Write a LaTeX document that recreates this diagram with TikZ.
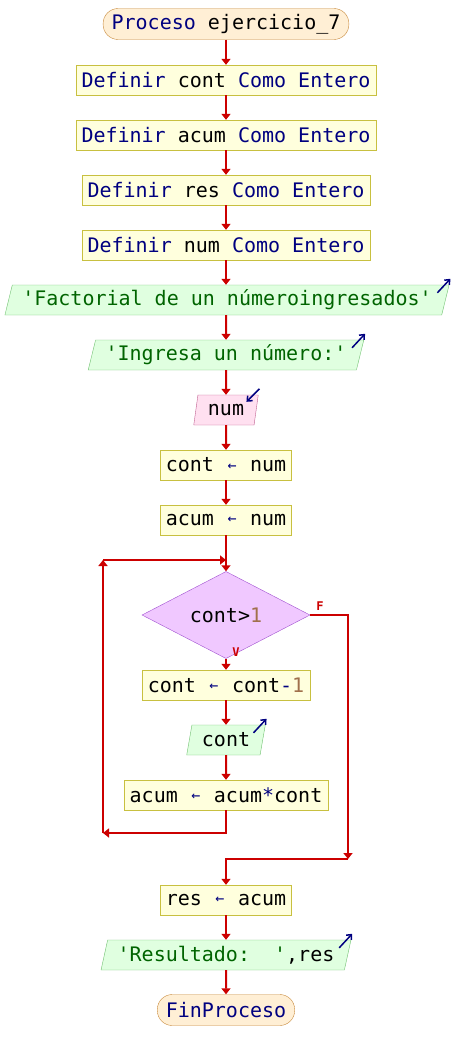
\documentclass[tikz,border=0pt]{standalone}
\usepackage{fontspec}
\setmainfont{DejaVu Sans Mono}
\usetikzlibrary{arrows.meta,shapes.geometric}

\definecolor{flecha}{HTML}{CC0000}
\definecolor{clave}{HTML}{000080}
\definecolor{cadena}{HTML}{006400}
\definecolor{numero}{HTML}{A0704C}
\definecolor{fondoproc}{HTML}{FFFFDD}
\definecolor{bordeproc}{HTML}{C8C040}
\definecolor{fondoterm}{HTML}{FFEFD5}
\definecolor{bordeterm}{HTML}{C88A3C}
\definecolor{fondosal}{HTML}{E0FFE0}
\definecolor{bordesal}{HTML}{70C070}
\definecolor{fondoent}{HTML}{FFE0F0}
\definecolor{bordeent}{HTML}{C06090}
\definecolor{fondodec}{HTML}{F0C8FF}
\definecolor{bordedec}{HTML}{A050D0}

\newcommand{\kw}[1]{\textcolor{clave}{#1}}
\newcommand{\cad}[1]{\textcolor{cadena}{#1}}
\newcommand{\num}[1]{\textcolor{numero}{#1}}
\newcommand{\q}{\textquotesingle}
\newcommand{\asig}{\makebox[12pt]{\textcolor{clave}{\raisebox{1.5pt}{\fontsize{15}{15}\selectfont ←}}}}

\begin{document}
\begin{tikzpicture}[x=1pt,y=-1pt,font=\fontsize{20}{24}\selectfont]

\tikzset{
    proceso/.style={rectangle,draw=bordeproc,fill=fondoproc,minimum height=30pt,inner xsep=5.5pt,inner ysep=0pt},
    terminal/.style={rectangle,rounded corners=15pt,draw=bordeterm,fill=fondoterm,minimum height=31pt,inner xsep=8.5pt,inner ysep=0pt},
    salida/.style={trapezium,trapezium left angle=70,trapezium right angle=110,trapezium stretches=true,draw=bordesal,fill=fondosal,minimum height=30pt,inner xsep=10pt,inner ysep=0pt},
    entrada/.style={salida,draw=bordeent,fill=fondoent},
    decision/.style={diamond,draw=bordedec,fill=fondodec,minimum width=168pt,minimum height=59pt,inner sep=0pt},
    flujo/.style={draw=flecha,line width=2pt,-{Triangle[length=6pt,width=9pt]}},
    icono/.style={draw=clave,line width=1.5pt,-{Straight Barb[length=4pt,width=7pt]}},
    etiqueta/.style={text=flecha,font=\fontsize{12}{12}\selectfont\bfseries,inner sep=0pt}
}

\useasboundingbox (0,0) rectangle (452,1060);

%% Inicio y definiciones
\node[terminal] (inicio) at (226,24) {\kw{Proceso} ejercicio\_7};
\node[proceso] (defcont) at (226,80) {\kw{Definir} cont \kw{Como} \kw{Entero}};
\node[proceso] (defacum) at (226,135) {\kw{Definir} acum \kw{Como} \kw{Entero}};
\node[proceso] (defres) at (226,190) {\kw{Definir} res \kw{Como} \kw{Entero}};
\node[proceso] (defnum) at (226,245) {\kw{Definir} num \kw{Como} \kw{Entero}};

%% Entrada / salida
\node[salida] (titulo) at (227,300) {\cad{\q Factorial de un númeroingresados\q}};
\node[salida] (pedir) at (226,355) {\cad{\q Ingresa un número:\q}};
\node[entrada] (leer) at (226,410) {num};

%% Asignaciones
\node[proceso] (contnum) at (226,465) {cont \asig\ num};
\node[proceso] (acumnum) at (226,520) {acum \asig\ num};

%% Bucle
\node[decision] (cond) at (226,615) {cont>\num{1}};
\node[proceso] (contmenos) at (226,685) {cont \asig\ cont\kw{-}\num{1}};
\node[salida] (mostrar) at (226,740) {cont};
\node[proceso] (acummul) at (226,795) {acum \asig\ acum\kw{*}cont};

\node[etiqueta] (etiqV) at (236,652) {V};
\node[etiqueta] (etiqF) at (320,606) {F};

\coordinate (bucle) at (226,560);
\coordinate (bucleizq) at (103,560);
\coordinate (retizq) at (103,833);
\coordinate (salidaF) at (348,859);

%% Final
\node[proceso] (resacum) at (226,900) {res \asig\ acum};
\node[salida] (resultado) at (226,955) {\cad{\q Resultado:\ \ \q},res};
\node[terminal] (fin) at (226,1010) {\kw{FinProceso}};

%% Conectores
\draw[flujo] (inicio) -- (defcont);
\draw[flujo] (defcont) -- (defacum);
\draw[flujo] (defacum) -- (defres);
\draw[flujo] (defres) -- (defnum);
\draw[flujo] (defnum) -- (defnum |- titulo.north);
\draw[flujo] (titulo.south -| pedir) -- (pedir);
\draw[flujo] (pedir) -- (leer);
\draw[flujo] (leer) -- (contnum);
\draw[flujo] (contnum) -- (acumnum);
\draw[flujo] (acumnum) -- (cond);
\draw[flujo] (cond) -- (contmenos);
\draw[flujo] (contmenos) -- (mostrar);
\draw[flujo] (mostrar) -- (acummul);
\draw[flujo] (acummul) |- (retizq);
\draw[flujo] (retizq) -- (bucleizq);
\draw[flujo] (bucleizq) -- (bucle);
\draw[flujo] (cond.east) -| (salidaF);
\draw[flujo] (salidaF) -| (resacum);
\draw[flujo] (resacum) -- (resultado);
\draw[flujo] (resultado) -- (fin);

%% Iconos de lectura y escritura
\draw[icono] ([shift={(-12,8)}]titulo.top right corner) -- ++(13,-14);
\draw[icono] ([shift={(-12,8)}]pedir.top right corner) -- ++(13,-14);
\draw[icono] ([shift={(-12,8)}]mostrar.top right corner) -- ++(13,-14);
\draw[icono] ([shift={(-12,8)}]resultado.top right corner) -- ++(13,-14);
\draw[icono] ([shift={(1,-6)}]leer.top right corner) -- ++(-13,13);

\end{tikzpicture}
\end{document}
